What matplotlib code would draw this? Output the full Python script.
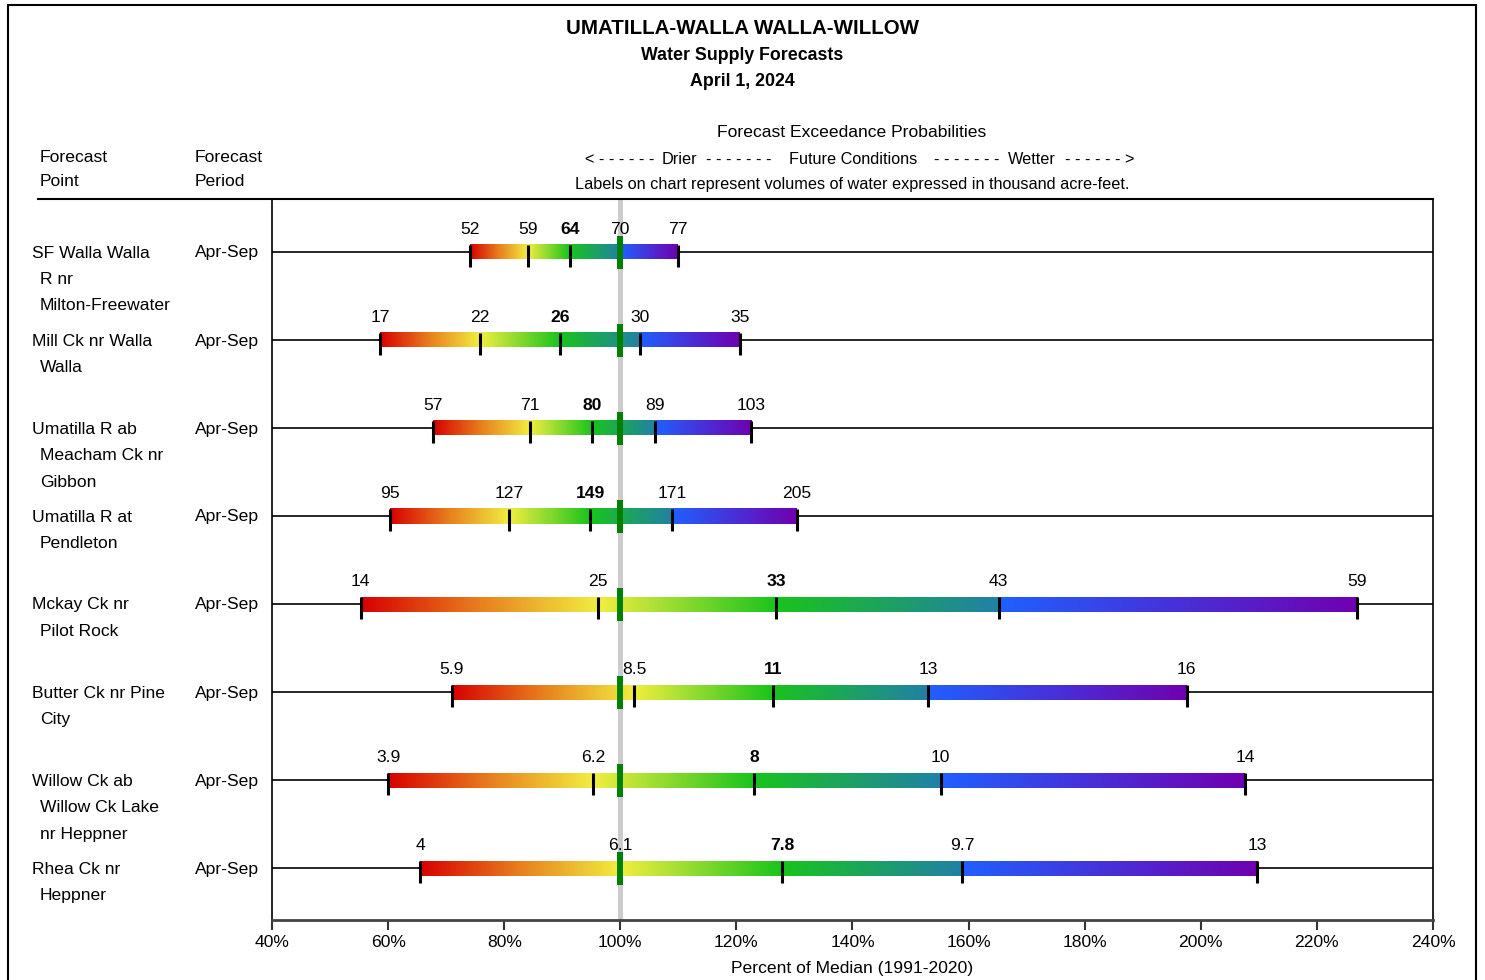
import matplotlib.pyplot as plt
import numpy as np
from matplotlib.colors import to_rgb
from matplotlib.patches import Rectangle
from matplotlib.lines import Line2D

plt.rcParams['font.family'] = ['Liberation Sans', 'DejaVu Sans']

# forecast points, one list entry per wrapped line
points = [
    ["SF Walla Walla", "R nr", "Milton-Freewater"],
    ["Mill Ck nr Walla", "Walla"],
    ["Umatilla R ab", "Meacham Ck nr", "Gibbon"],
    ["Umatilla R at", "Pendleton"],
    ["Mckay Ck nr", "Pilot Rock"],
    ["Butter Ck nr Pine", "City"],
    ["Willow Ck ab", "Willow Ck Lake", "nr Heppner"],
    ["Rhea Ck nr", "Heppner"],
]
periods = ["Apr-Sep"] * 8

# exceedance volumes (kaf), 90% 70% 50% 30% 10%
volumes = [
    ["52", "59", "64", "70", "77"],
    ["17", "22", "26", "30", "35"],
    ["57", "71", "80", "89", "103"],
    ["95", "127", "149", "171", "205"],
    ["14", "25", "33", "43", "59"],
    ["5.9", "8.5", "11", "13", "16"],
    ["3.9", "6.2", "8", "10", "14"],
    ["4", "6.1", "7.8", "9.7", "13"],
]
# the same values as percent of median
pct = [
    [74.1, 84.1, 91.3, 100.0, 109.9],
    [58.6, 75.8, 89.6, 103.4, 120.6],
    [67.7, 84.4, 95.1, 106.0, 122.5],
    [60.3, 80.8, 94.8, 108.9, 130.4],
    [55.3, 96.2, 126.8, 165.2, 226.9],
    [71.0, 102.4, 126.3, 153.0, 197.6],
    [60.0, 95.3, 123.0, 155.2, 207.6],
    [65.5, 100.0, 127.9, 158.9, 209.7],
]
xticks = [40, 60, 80, 100, 120, 140, 160, 180, 200, 220, 240]

W, H = 1485, 980
FS = 12.6
fig = plt.figure(figsize=(W / 100, H / 100), dpi=100)
ax = fig.add_axes([272 / W, 60 / H, (1433 - 272) / W, 720 / H])

def fx(px):
    return px / W

def fy(py):
    return 1 - py / H

red = np.array(to_rgb("#d80000"))
orange = np.array(to_rgb("#e8801e"))
yellow = np.array(to_rgb("#f2ee40"))
green = np.array(to_rgb("#18c41c"))
teal = np.array(to_rgb("#2180a8"))
blue = np.array(to_rgb("#2060ff"))
purple = np.array(to_rgb("#7000b0"))

def bar_colors(p, xs):
    p90, p70, p50, p30, p10 = p
    lo_pos = [p90, (p90 + p70) / 2, p70, p50, p30]
    lo_col = [red, orange, yellow, green, teal]
    out = np.zeros((1, len(xs), 3))
    for c in range(3):
        a = np.interp(xs, lo_pos, [k[c] for k in lo_col])
        b = np.interp(xs, [p30, p10], [blue[c], purple[c]])
        out[0, :, c] = np.where(xs <= p30, a, b)
    return out

hb = 7.5 / 88
ax.axvline(100, color="#cccccc", lw=3.6, zorder=1)
for i, p in enumerate(pct):
    ax.axhline(i, color="black", lw=1.2, zorder=2)
    xs = np.linspace(p[0], p[-1], 800)
    ax.imshow(bar_colors(p, xs), extent=(p[0], p[-1], i + hb, i - hb),
              aspect="auto", interpolation="bilinear", zorder=3)
    for j, v in enumerate(p):
        ax.plot([v, v], [i - hb, i + 15 / 88], color="black", lw=2.2,
                solid_capstyle="butt", zorder=4)
        ax.text(v, i - 23 / 88, volumes[i][j], ha="center", va="center",
                fontsize=FS, fontweight="bold" if j == 2 else "normal", zorder=6)
    ax.plot([100, 100], [i - 16 / 88, i + 17 / 88], color="#008000", lw=4.3,
            solid_capstyle="butt", zorder=5)

ax.set_xlim(40, 240)
ax.set_ylim(7 + 52 / 88, -52 / 88)
ax.set_xticks(xticks)
ax.set_xticklabels([f"{t}%" for t in xticks], fontsize=FS)
ax.set_yticks([])
ax.tick_params(axis="x", length=7, width=1.5, color="#333333", pad=4)
ax.spines["top"].set_visible(False)
ax.spines["bottom"].set_color("#444444")
ax.spines["bottom"].set_linewidth(2)
ax.spines["left"].set_linewidth(1.2)
ax.spines["right"].set_linewidth(1.2)
ax.set_xlabel("Percent of Median (1991-2020)", fontsize=FS, labelpad=8)

# left columns
for i, lines in enumerate(points):
    y0 = 253 + 88 * i
    for k, s in enumerate(lines):
        fig.text(fx(32 if k == 0 else 40), fy(y0 + 26.5 * k), s, ha="left",
                 va="center", fontsize=FS)
    fig.text(fx(195), fy(y0), periods[i], ha="left", va="center", fontsize=FS)

fig.text(fx(40), fy(158), "Forecast", ha="left", va="center", fontsize=FS)
fig.text(fx(40), fy(182), "Point", ha="left", va="center", fontsize=FS)
fig.text(fx(195), fy(158), "Forecast", ha="left", va="center", fontsize=FS)
fig.text(fx(195), fy(182), "Period", ha="left", va="center", fontsize=FS)

fig.text(fx(852), fy(132), "Forecast Exceedance Probabilities", ha="center",
         va="center", fontsize=FS)
arrow_parts = [(585, "< - - - - - -"), (662, "Drier"), (706, "- - - - - - -"),
               (789, "Future Conditions"), (934, "- - - - - - -"),
               (1008, "Wetter"), (1065, "- - - - - - >")]
for x0, s in arrow_parts:
    fig.text(fx(x0), fy(159), s, ha="left", va="center", fontsize=11.7)
fig.text(fx(852), fy(185),
         "Labels on chart represent volumes of water expressed in thousand acre-feet.",
         ha="center", va="center", fontsize=11.7)

fig.text(fx(742), fy(28), "UMATILLA-WALLA WALLA-WILLOW", ha="center", va="center",
         fontsize=14.8, fontweight="bold")
fig.text(fx(742), fy(55), "Water Supply Forecasts", ha="center", va="center",
         fontsize=12.8, fontweight="bold")
fig.text(fx(742), fy(82), "April 1, 2024", ha="center", va="center",
         fontsize=12.8, fontweight="bold")

fig.add_artist(Line2D([fx(38), fx(1433)], [fy(199), fy(199)], color="black", lw=1.5))
fig.add_artist(Rectangle((fx(8), fy(990)), fx(1476 - 8), 985 / H, fill=False,
                         edgecolor="black", lw=1.5))

fig.savefig("out.png", dpi=100)
